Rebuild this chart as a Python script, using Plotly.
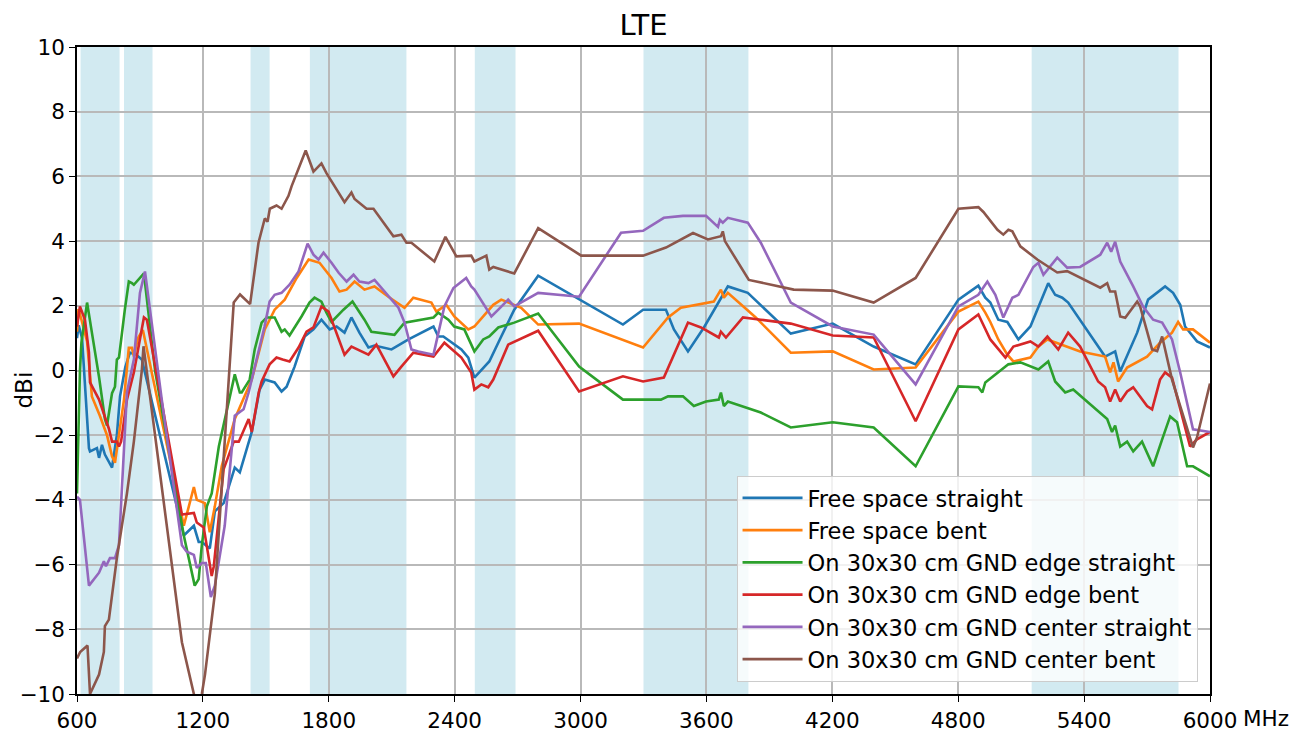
import plotly.graph_objects as go

# ---------------- data (MHz, dBi) ----------------
series_names = [
    "Free space straight",
    "Free space bent",
    "On 30x30 cm GND edge straight",
    "On 30x30 cm GND edge bent",
    "On 30x30 cm GND center straight",
    "On 30x30 cm GND center bent",
]
series_colors = ["#1f77b4", "#ff7f0e", "#2ca02c", "#d62728", "#9467bd", "#8c564b"]

fs_straight_f = [600, 608, 624, 657, 662, 695, 705, 719, 733, 767, 790, 805, 830, 852, 880, 909,
                 1109, 1157, 1180, 1195, 1233, 1257, 1299, 1352, 1376, 1433, 1470, 1495, 1542, 1575,
                 1599, 1637, 1685, 1727, 1765, 1804, 1837, 1875, 1908, 1946, 1989, 2018, 2099, 2137,
                 2180, 2299, 2322, 2346, 2398, 2432, 2465, 2494, 2551, 2565, 2622, 2684, 2798, 2993,
                 3202, 3298, 3407, 3445, 3512, 3588, 3659, 3702, 3797, 4002, 4202, 4397, 4597, 4801,
                 4896, 4929, 4953, 4991, 5034, 5087, 5144, 5229, 5262, 5296, 5324, 5381, 5500, 5548,
                 5572, 5653, 5705, 5786, 5824, 5858, 5881, 5938, 6000]
fs_straight_g = [1.0, 1.4, 1.0, -2.4, -2.5, -2.4, -2.7, -2.3, -2.6, -3.0, -2.0, -0.8, 0.1, 0.55, 0.5, 0.34,
                 -5.1, -4.8, -5.3, -5.3, -5.5, -4.35, -4.1, -3.0, -3.15, -1.9, -0.6, -0.28, -0.37, -0.65,
                 -0.5, 0.12, 1.05, 1.27, 1.57, 1.27, 1.36, 1.17, 1.64, 1.17, 0.71, 0.77, 0.65, 0.8,
                 0.96, 1.36, 1.05, 1.05, 0.8, 0.65, 0.4, -0.22, 0.18, 0.28, 1.05, 1.88, 2.93, 2.2,
                 1.42, 1.88, 1.88, 1.27, 0.59, 1.33, 2.1, 2.6, 2.4, 1.14, 1.45, 0.74, 0.19, 2.19,
                 2.62, 2.25, 2.1, 1.57, 1.5, 0.96, 1.36, 2.7, 2.34, 2.25, 2.1, 1.57, 0.43, 0.59,
                 -0.03, 1.17, 2.19, 2.6, 2.4, 2.03, 1.36, 0.9, 0.71]

fs_bent_f = [600, 607, 620, 648, 671, 709, 743, 767, 781, 800, 824, 847, 862, 871, 890, 914,
             1109, 1157, 1171, 1209, 1233, 1257, 1290, 1352, 1433, 1495, 1542, 1590, 1647, 1704,
             1756, 1813, 1851, 1885, 1923, 1970, 2018, 2084, 2161, 2203, 2289, 2313, 2360, 2398,
             2432, 2465, 2494, 2584, 2622, 2655, 2717, 2798, 2993, 3298, 3417, 3478, 3635, 3669,
             3683, 3702, 3835, 4002, 4202, 4397, 4597, 4801, 4896, 4929, 4953, 4991, 5034, 5063,
             5144, 5182, 5225, 5381, 5500, 5524, 5540, 5562, 5605, 5700, 5762, 5819, 5848, 5872,
             5919, 6000]
fs_bent_g = [1.2, 1.9, 1.6, 0.9, -0.8, -1.4, -2.0, -2.65, -2.85, -2.0, -0.9, 0.7, 0.7, 0.43, 1.0, 1.25,
             -4.8, -3.6, -4.0, -4.1, -5.0, -4.2, -2.95, -1.5, -0.28, 1.27, 1.88, 2.19, 2.86, 3.43,
             3.33, 2.86, 2.44, 2.5, 2.75, 2.5, 2.6, 2.28, 1.94, 2.25, 2.1, 1.82, 2.03, 1.67,
             1.48, 1.27, 1.36, 2.03, 2.19, 2.1, 1.94, 1.42, 1.45, 0.71, 1.64, 1.94, 2.13, 2.5,
             2.25, 2.4, 1.64, 0.55, 0.59, 0.03, 0.09, 1.82, 2.13, 1.79, 1.5, 0.96, 0.49, 0.28,
             0.4, 0.74, 0.96, 0.59, 0.43, -0.06, 0.25, -0.34, 0.09, 0.43, 0.86, 1.17, 1.5, 1.27,
             1.27, 0.86]

edge_straight_f = [600, 614, 621, 648, 671, 705, 733, 743, 767, 781, 790, 800, 828, 847, 862, 871,
                   919, 972, 1109, 1147, 1161, 1180, 1195, 1219, 1242, 1276, 1352, 1376, 1385, 1423,
                   1447, 1480, 1504, 1542, 1575, 1590, 1613, 1670, 1708, 1732, 1765, 1789, 1813, 1870,
                   1913, 1970, 2003, 2113, 2161, 2299, 2322, 2370, 2398, 2446, 2494, 2536, 2565, 2608,
                   2684, 2798, 2993, 3202, 3383, 3417, 3488, 3540, 3598, 3659, 3669, 3683, 3702, 3859,
                   4002, 4202, 4397, 4597, 4801, 4896, 4915, 4929, 4967, 5039, 5096, 5182, 5229, 5262,
                   5310, 5348, 5510, 5533, 5548, 5572, 5605, 5634, 5676, 5729, 5772, 5810, 5843, 5891,
                   5919, 6000]
edge_straight_g = [-3.8, 0.0, 0.85, 2.1, 1.17, -0.2, -1.5, -1.7, -0.7, -0.5, 0.34, 0.4, 1.88, 2.75, 2.7, 2.65,
                   3.0, 0.0, -5.1, -6.25, -6.65, -6.45, -5.4, -4.2, -3.8, -2.35, -0.12, -0.68, -0.68, -0.28,
                   0.65, 1.48, 1.64, 1.64, 1.2, 1.27, 1.08, 1.67, 2.1, 2.25, 2.13, 1.79, 1.5, 1.88,
                   2.13, 1.57, 1.2, 1.1, 1.48, 1.64, 1.79, 1.57, 1.36, 1.27, 0.59, 0.96, 1.05, 1.33,
                   1.48, 1.76, 0.12, -0.9, -0.9, -0.8, -0.8, -1.1, -0.96, -0.9, -0.68, -1.1, -0.96, -1.3,
                   -1.76, -1.6, -1.76, -2.96, -0.49, -0.52, -0.68, -0.37, -0.18, 0.19, 0.25, 0.03, 0.28, -0.34,
                   -0.68, -0.59, -1.5, -1.9, -1.7, -2.35, -2.2, -2.5, -2.2, -2.96, -2.13, -1.42, -1.6, -2.96,
                   -2.96, -3.27]

edge_bent_f = [600, 614, 638, 657, 662, 705, 752, 767, 790, 800, 810, 838, 871, 919, 933,
               1100, 1157, 1171, 1204, 1242, 1252, 1299, 1347, 1371, 1418, 1433, 1466, 1480, 1518,
               1551, 1580, 1613, 1656, 1694, 1727, 1765, 1799, 1828, 1875, 1908, 1956, 1989, 2027,
               2108, 2146, 2203, 2299, 2351, 2432, 2479, 2494, 2527, 2560, 2584, 2655, 2798, 2993,
               3202, 3298, 3397, 3512, 3574, 3659, 3669, 3693, 3774, 3859, 4002, 4202, 4397, 4597,
               4801, 4896, 4929, 4953, 5025, 5063, 5144, 5182, 5225, 5277, 5324, 5381, 5467, 5500,
               5524, 5548, 5572, 5605, 5634, 5667, 5700, 5724, 5762, 5786, 5819, 5905, 5938, 6000]
edge_bent_g = [1.36, 1.98, 1.57, 0.55, -0.37, -0.9, -1.8, -2.2, -2.2, -2.35, -2.2, -0.9, -0.06, 1.64, 1.57,
               -4.45, -4.4, -4.7, -4.85, -6.35, -6.05, -3.05, -2.2, -2.2, -1.5, -1.9, -0.68, -0.34, 0.19,
               0.4, 0.34, 0.28, 0.71, 1.2, 1.33, 1.98, 1.82, 1.33, 0.49, 0.74, 0.59, 0.49, 0.8,
               -0.18, 0.12, 0.55, 0.43, 0.86, 0.4, -0.06, -0.59, -0.43, -0.52, -0.28, 0.8, 1.23, -0.65,
               -0.18, -0.34, -0.22, 1.48, 1.33, 1.02, 1.2, 1.02, 1.64, 1.57, 1.45, 1.08, 1.02, -1.57,
               1.27, 1.73, 1.27, 0.96, 0.4, 0.74, 0.9, 0.74, 1.05, 0.65, 1.17, 0.74, -0.34, -0.52,
               -0.96, -0.59, -0.96, -0.65, -0.52, -0.83, -1.1, -1.2, -0.28, -0.06, -0.22, -2.35, -2.13, -1.9]

center_straight_f = [600, 614, 657, 680, 705, 728, 738, 757, 781, 800, 838, 871, 900, 924, 957, 1004,
                     1100, 1123, 1157, 1171, 1195, 1214, 1238, 1257, 1304, 1352, 1394, 1418, 1494, 1518,
                     1542, 1575, 1613, 1656, 1699, 1727, 1751, 1775, 1813, 1847, 1885, 1918, 1946, 1989,
                     2018, 2065, 2132, 2161, 2194, 2227, 2299, 2351, 2394, 2455, 2479, 2494, 2575, 2608,
                     2655, 2684, 2798, 2993, 3193, 3298, 3397, 3488, 3598, 3655, 3664, 3678, 3702, 3797,
                     3859, 4002, 4202, 4397, 4597, 4801, 4896, 4939, 4977, 5015, 5058, 5087, 5158, 5182,
                     5206, 5272, 5319, 5381, 5477, 5510, 5529, 5548, 5572, 5634, 5681, 5729, 5772, 5819,
                     5858, 5919, 6000]
center_straight_g = [-3.9, -4.0, -6.65, -6.45, -6.25, -5.9, -6.05, -5.8, -5.8, -5.4, -0.68, 0.34, 2.4, 3.06, 1.36, -0.9,
                     -5.4, -5.6, -5.7, -6.1, -5.95, -5.95, -7.0, -6.65, -4.8, -1.4, -1.2, -0.68, 1.36, 2.13,
                     2.34, 2.4, 2.65, 3.06, 3.92, 3.58, 3.43, 3.64, 3.33, 3.02, 2.75, 2.96, 2.75, 2.7,
                     2.8, 2.44, 1.94, 1.48, 0.65, 0.59, 0.49, 1.98, 2.55, 2.86, 2.6, 2.5, 1.67, 1.88,
                     2.19, 1.98, 2.4, 2.28, 4.26, 4.32, 4.72, 4.78, 4.78, 4.44, 4.66, 4.57, 4.72, 4.57,
                     3.95, 2.1, 1.36, 1.11, -0.43, 1.98, 2.34, 2.75, 2.34, 1.64, 2.25, 2.34, 3.2, 3.33,
                     2.96, 3.49, 3.18, 3.2, 3.58, 3.95, 3.67, 3.98, 3.37, 2.6, 1.98, 1.57, 1.48, 0.96,
                     -0.06, -1.82, -1.9]

center_bent_f = [600, 615, 650, 662, 705, 728, 733, 752, 790, 838, 871, 909, 917, 1100, 1157, 1175,
                 1195, 1210, 1257, 1322, 1347, 1377, 1425, 1465, 1495, 1508, 1519, 1551, 1575, 1608,
                 1623, 1690, 1727, 1765, 1789, 1875, 1908, 1923, 1980, 2013, 2108, 2146, 2170, 2194,
                 2303, 2356, 2408, 2479, 2494, 2551, 2565, 2584, 2684, 2798, 3003, 3298, 3407, 3536,
                 3607, 3669, 3678, 3688, 3802, 4016, 4201, 4397, 4597, 4801, 4896, 4920, 4987, 5015,
                 5039, 5058, 5096, 5177, 5272, 5319, 5477, 5510, 5524, 5548, 5572, 5596, 5653, 5667,
                 5724, 5748, 5772, 5819, 5905, 5919, 5938, 6000]
center_bent_g = [-8.9, -8.7, -8.5, -10.0, -9.4, -8.7, -7.9, -7.7, -5.8, -3.8, -2.2, 0.0, 0.75, -8.4, -10.0, -10.5,
                 -10.0, -9.4, -6.9, -0.2, 2.1, 2.35, 2.05, 3.95, 4.7, 4.6, 5.0, 5.1, 5.0, 5.4,
                 5.7, 6.8, 6.15, 6.4, 6.1, 5.2, 5.5, 5.3, 5.0, 5.0, 4.15, 4.2, 3.95, 3.95,
                 3.37, 4.13, 3.53, 3.55, 3.37, 3.55, 3.12, 3.2, 3.0, 4.4, 3.55, 3.55, 3.8, 4.25,
                 4.05, 4.15, 4.3, 4.0, 2.8, 2.5, 2.47, 2.1, 2.86, 5.0, 5.05, 4.9, 4.35, 4.2,
                 4.35, 4.3, 3.84, 3.43, 3.03, 3.07, 2.56, 2.7, 2.44, 2.44, 1.67, 1.63, 2.13, 1.98,
                 0.65, 0.6, 1.05, -0.28, -2.13, -2.38, -2.07, -0.4]

# LTE bands to shade (MHz)
band_lo = [617, 824, 1427, 1710, 2496, 3300, 5150]
band_hi = [803, 960, 1518, 2170, 2690, 3800, 5850]

x_ticks = [600, 1200, 1800, 2400, 3000, 3600, 4200, 4800, 5400, 6000]
x_tick_text = ["600", "1200", "1800", "2400", "3000", "3600", "4200", "4800", "5400", "6000"]
y_ticks = [-10, -8, -6, -4, -2, 0, 2, 4, 6, 8, 10]

# ---------------- figure ----------------
all_f = [fs_straight_f, fs_bent_f, edge_straight_f, edge_bent_f, center_straight_f, center_bent_f]
all_g = [fs_straight_g, fs_bent_g, edge_straight_g, edge_bent_g, center_straight_g, center_bent_g]

FONT = "DejaVu Sans"
fig = go.Figure()
for name, col, f, g in zip(series_names, series_colors, all_f, all_g):
    fig.add_trace(go.Scatter(x=f, y=g, mode="lines", name=name,
                             line=dict(color=col, width=2.6)))

for lo, hi in zip(band_lo, band_hi):
    fig.add_shape(type="rect", xref="x", yref="y", x0=lo, x1=hi, y0=-10, y1=10,
                  fillcolor="rgba(173,216,230,0.55)", line=dict(width=0), layer="below")

axis_common = dict(showline=True, linecolor="black", linewidth=1.6, mirror=True,
                   showgrid=True, gridcolor="#b9b9b9", gridwidth=1.6,
                   ticks="outside", ticklen=6, tickwidth=1.4, tickcolor="black",
                   zeroline=False, tickfont=dict(family=FONT, size=21.5, color="black"))

fig.update_xaxes(range=[600, 6000], tickmode="array", tickvals=x_ticks, ticktext=x_tick_text,
                 **axis_common)
fig.update_yaxes(range=[-10, 10], tickmode="array", tickvals=y_ticks, **axis_common)

fig.add_annotation(text="MHz", xref="paper", yref="paper", x=1, y=0, xshift=56, yshift=-24,
                   showarrow=False, font=dict(family=FONT, size=21.5, color="black"),
                   xanchor="center", yanchor="middle")
fig.add_annotation(text="dBi", xref="paper", yref="paper", x=0, y=0.5, xshift=-54, yshift=-20,
                   textangle=-90, showarrow=False, font=dict(family=FONT, size=23, color="black"),
                   xanchor="center", yanchor="middle")

fig.update_layout(
    width=1304, height=737,
    margin=dict(l=67, r=102, t=39, b=39),
    paper_bgcolor="white", plot_bgcolor="white",
    title=dict(text="LTE", x=0.5, xref="paper", y=1 - 17 / 737, yref="container",
               xanchor="center", yanchor="middle",
               font=dict(family=FONT, size=29, color="black")),
    legend=dict(x=0.989, y=0.019, xanchor="right", yanchor="bottom",
                bgcolor="rgba(255,255,255,0.8)", bordercolor="#cccccc", borderwidth=1,
                font=dict(family=FONT, size=22.5, color="black"), tracegroupgap=0,
                itemwidth=60),
    showlegend=True,
)

fig.write_html("out.html")
